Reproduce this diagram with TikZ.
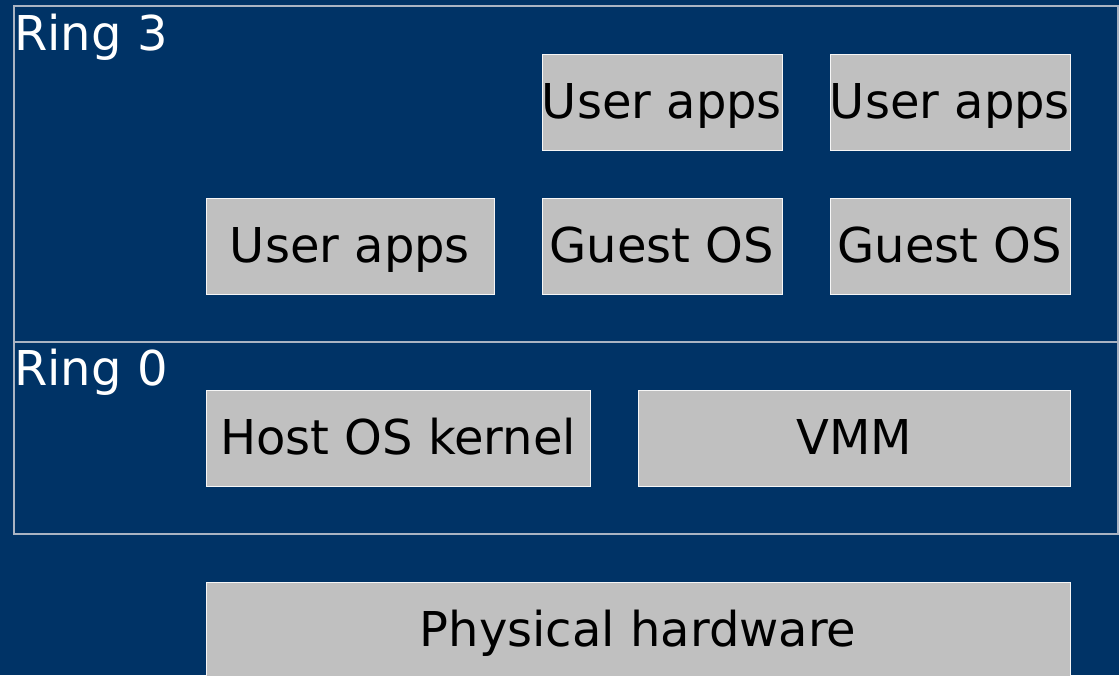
\documentclass[tikz,border=0pt]{standalone}
\usepackage{fontspec}
\setmainfont{DejaVu Sans}
\definecolor{bgblue}{RGB}{0,51,102}
\definecolor{boxgray}{RGB}{192,192,192}
\definecolor{ringline}{RGB}{170,180,195}
\begin{document}
\begin{tikzpicture}[x=1pt,y=-1pt,
  ring/.style={draw=ringline,line width=1.2pt},
  layer/.style={draw=white!85!boxgray,fill=boxgray,line width=0.8pt},
  lbl/.style={font=\fontsize{48}{50}\selectfont,text=black,inner sep=0pt,anchor=base},
  ringlbl/.style={font=\fontsize{48}{50}\selectfont,text=white,inner sep=0pt,anchor=base west}]
  % background
  \fill[bgblue] (0,0) rectangle (1119,675);
  \useasboundingbox (0,0) rectangle (1119,675);
  % privilege rings
  \draw[ring] (14,6) rectangle (1118,342);
  \draw[ring] (14,342) rectangle (1118,534);
  \node[ringlbl] (r3) at (14,50) {Ring 3};
  \node[ringlbl] (r0) at (14,385) {Ring 0};
  % ring 3 layers
  \draw[layer] (542,54) rectangle (782,150);
  \node[lbl] (ua1) at (662,118) {User apps};
  \draw[layer] (830,54) rectangle (1070,150);
  \node[lbl] (ua2) at (950,118) {User apps};
  \draw[layer] (206,198) rectangle (494,294);
  \node[lbl] (ua0) at (350,262) {User apps};
  \draw[layer] (542,198) rectangle (782,294);
  \node[lbl] (g1) at (662,262) {Guest OS};
  \draw[layer] (830,198) rectangle (1070,294);
  \node[lbl] (g2) at (950,262) {Guest OS};
  % ring 0 layers
  \draw[layer] (206,390) rectangle (590,486);
  \node[lbl] (hk) at (398,454) {Host OS kernel};
  \draw[layer] (638,390) rectangle (1070,486);
  \node[lbl] (vmm) at (854,454) {VMM};
  % hardware
  \draw[layer] (206,582) rectangle (1070,680);
  \node[lbl] (hw) at (638,646) {Physical hardware};
\end{tikzpicture}
\end{document}
